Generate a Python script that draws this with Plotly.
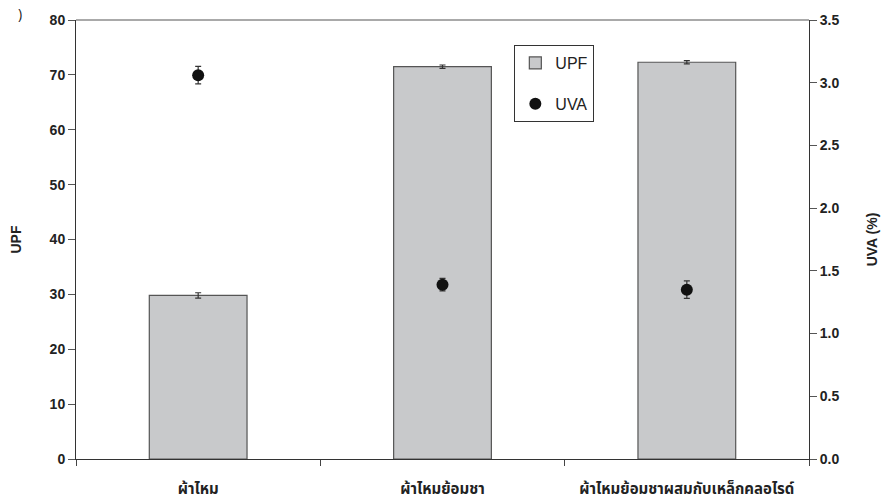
import plotly.graph_objects as go

categories = ["ผ้าไหม", "ผ้าไหมย้อมชา", "ผ้าไหมย้อมชาผสมกับเหล็กคลอไรด์"]
upf = [29.8, 71.5, 72.3]
upf_err = [0.5, 0.3, 0.3]
uva = [3.06, 1.39, 1.35]
uva_err = [0.07, 0.05, 0.07]
upf_ticks = [0, 10, 20, 30, 40, 50, 60, 70, 80]
uva_ticks = [0.0, 0.5, 1.0, 1.5, 2.0, 2.5, 3.0, 3.5]

FONT = "Liberation Sans, Arial, sans-serif"
tick_font = dict(family=FONT, size=14, color="#222")

fig = go.Figure()
fig.add_trace(go.Bar(
    x=categories, y=upf, name="UPF", width=0.4,
    marker=dict(color="#c8c9cb", line=dict(color="#555", width=1.2)),
    error_y=dict(type="data", array=upf_err, color="#333", thickness=1.2, width=3),
    legendgroup="a",
))
fig.add_trace(go.Scatter(
    x=categories, y=uva, name="UVA", mode="markers", yaxis="y2",
    marker=dict(color="#111", size=12),
    error_y=dict(type="data", array=uva_err, color="#333", thickness=1.2, width=3),
    legendgroup="b",
))

fig.update_layout(
    width=886, height=504,
    margin=dict(l=76, r=77, t=20, b=45),
    paper_bgcolor="white", plot_bgcolor="white",
    showlegend=True,
    legend=dict(x=0.598, y=0.943, xanchor="left", yanchor="top",
                bordercolor="#333", borderwidth=1, bgcolor="white",
                font=dict(family=FONT, size=16, color="#222"),
                tracegroupgap=17, traceorder="grouped", itemwidth=30),
    xaxis=dict(type="category", range=[-0.5, 2.5], tickson="boundaries",
               ticks="outside", ticklen=6, tickcolor="#444", automargin=False,
               showline=True, linecolor="#333", linewidth=1,
               showgrid=False, ticklabelstandoff=16,
               tickvals=categories, ticktext=["<b>%s</b>" % c for c in categories],
               tickfont=dict(family="Noto Sans Thai, Liberation Sans, sans-serif", size=15, color="#222")),
    yaxis=dict(range=[0, 80], tickvals=upf_ticks, ticktext=["<b>%d</b>" % v for v in upf_ticks],
               ticks="outside", ticklen=7, tickcolor="#555", automargin=False,
               showline=True, linecolor="#333", linewidth=1, showgrid=False, zeroline=False,
               tickfont=tick_font,
               title=dict(text="<b>UPF</b>", font=dict(family=FONT, size=14, color="#222"), standoff=24)),
    yaxis2=dict(range=[0, 3.5], tickvals=uva_ticks, ticktext=["<b>%.1f</b>" % v for v in uva_ticks],
                overlaying="y", side="right", automargin=False,
                ticks="outside", ticklen=7, tickcolor="#555",
                showline=True, linecolor="#333", linewidth=1, showgrid=False, zeroline=False,
                tickfont=tick_font,
                title=dict(text="<b>UVA (%)</b>", font=dict(family=FONT, size=14, color="#222"), standoff=28)),
    shapes=[dict(type="line", xref="paper", yref="paper", x0=0, x1=1, y0=1, y1=1,
                 line=dict(color="#555", width=1))],
    annotations=[dict(text=")", xref="paper", yref="paper", x=-0.082, y=1.04,
                      yanchor="top", showarrow=False, font=dict(size=14, color="#222"))],
)

fig.write_html("out.html")
